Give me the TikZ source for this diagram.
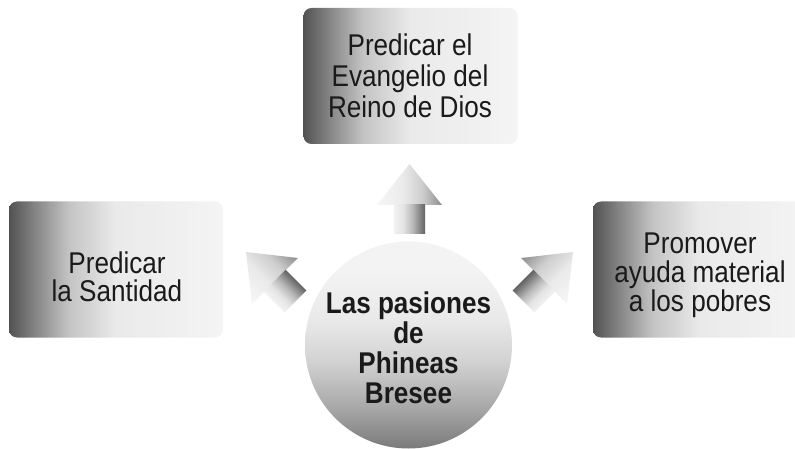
\documentclass[tikz,border=0pt]{standalone}
\usepackage{fontspec}
\setmainfont{Liberation Sans}[FakeStretch=0.87]
\definecolor{b0}{HTML}{525252}
\definecolor{b1}{HTML}{7C7C7C}
\definecolor{b2}{HTML}{C4C4C4}
\definecolor{b3}{HTML}{EAEAEA}
\definecolor{b4}{HTML}{F4F4F4}
\definecolor{c0}{HTML}{7A7A7A}
\definecolor{c1}{HTML}{A8A8A8}
\definecolor{c2}{HTML}{D2D2D2}
\definecolor{c3}{HTML}{E9E9E9}
\definecolor{c4}{HTML}{F3F3F3}
\definecolor{h0}{HTML}{F7F7F7}
\definecolor{h1}{HTML}{EAEAEA}
\definecolor{h2}{HTML}{CDCDCD}
\definecolor{h3}{HTML}{8C8C8C}
\definecolor{s0}{HTML}{F2F2F2}
\definecolor{s1}{HTML}{E4E4E4}
\definecolor{s2}{HTML}{B8B8B8}
\definecolor{s3}{HTML}{626262}
\definecolor{txt}{HTML}{1A1A1A}
\pgfdeclarehorizontalshading{boxshade}{100bp}{color(0bp)=(b0); color(25bp)=(b0); color(30bp)=(b1); color(39bp)=(b2); color(50bp)=(b3); color(75bp)=(b4); color(100bp)=(b4)}
\pgfdeclareverticalshading{circshade}{100bp}{color(0bp)=(c0); color(25bp)=(c0); color(35bp)=(c1); color(46bp)=(c2); color(56bp)=(c3); color(68bp)=(c4); color(100bp)=(c4)}
\pgfdeclarehorizontalshading{headshade}{100bp}{color(0bp)=(h0); color(25bp)=(h0); color(45bp)=(h1); color(60bp)=(h2); color(75bp)=(h3); color(100bp)=(h3)}
\pgfdeclarehorizontalshading{shaftshade}{100bp}{color(0bp)=(s0); color(25bp)=(s0); color(40bp)=(s1); color(55bp)=(s2); color(75bp)=(s3); color(100bp)=(s3)}
\begin{document}
\begin{tikzpicture}[x=1pt,y=-1pt,
  box/.style={rounded corners=8pt, shading=boxshade, minimum width=214pt, minimum height=136pt, inner sep=0pt, draw=none},
  lbl/.style={align=center, inner sep=0pt, text=txt},
  hub/.style={circle, minimum size=207pt, inner sep=0pt, shading=circshade, draw=none},
  bigarrow/.pic={
    \shade[shading=headshade] (0,0) -- (32.5,41) -- (-32.5,41) -- cycle;
    \shade[shading=shaftshade] (-15.5,40.5) rectangle (15.5,70);
  }]
\clip (0,0) rectangle (795,449);
\fill[white] (0,0) rectangle (795,449);
% boxes
\node[box] (top) at (410.5,76) {};
\node[box] (left) at (116,269.5) {};
\node[box] (right) at (700,269.5) {};
% labels
\node[lbl, font=\fontsize{30}{31}\selectfont] (topt) at (410,75.5) {Predicar el\\Evangelio del\\Reino de Dios};
\node[lbl, font=\fontsize{30}{27.7}\selectfont] (leftt) at (117,276.5) {Predicar\\la Santidad};
\node[lbl, font=\fontsize{30}{29.2}\selectfont] (rightt) at (700,275.5) {Promover\\ayuda material\\a los pobres};
% hub
\node[hub] (hub) at (408.5,345) {};
\node[lbl, font=\bfseries\fontsize{30}{30}\selectfont] (hubt) at (408.5,347.5) {Las pasiones\\de\\Phineas\\Bresee};
% arrows
\begin{scope}[transform canvas={shift={(409.5,164)}}]
  \pic {bigarrow};
\end{scope}
\begin{scope}[transform canvas={shift={(246,252)}, rotate=45}]
  \pic {bigarrow};
\end{scope}
\begin{scope}[transform canvas={shift={(573,252)}, rotate=-45, xscale=-1}]
  \pic {bigarrow};
\end{scope}
\end{tikzpicture}
\end{document}
